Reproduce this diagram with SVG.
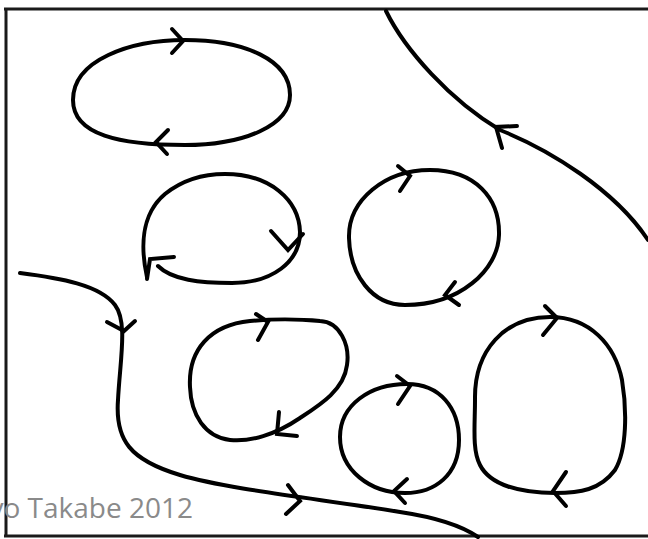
<svg xmlns="http://www.w3.org/2000/svg" width="648" height="539" viewBox="0 0 648 539">
<style>
.ln{fill:none;stroke:#000;stroke-width:4;stroke-linecap:round;stroke-linejoin:round}
.ah{fill:none;stroke:#000;stroke-width:4;stroke-linecap:round;stroke-linejoin:miter}
.fr{fill:none;stroke:#1a1a1a;stroke-width:3}
.cap{font-family:"Open Sans","Liberation Sans",sans-serif;font-size:28px;fill:#8a8a8a}
</style>
<rect width="648" height="539" fill="#fff"/>
<g id="frame">
<line class="fr" x1="4" y1="9" x2="648" y2="9"/>
<line class="fr" x1="6" y1="8" x2="6" y2="537"/>
<line class="fr" x1="4" y1="536" x2="648" y2="536"/>
</g>
<g id="loop1">
<path class="ln" d="M73,100 C73,60 130,40 185,40 C245,40 290,60 290,95 C290,125 245,145 185,145 C120,145 73,135 73,100 Z"/>
<polyline class="ah" points="172,29 183,41 172,53"/>
<polyline class="ah" points="168,130 156,142 167,154"/>
</g>
<g id="loop2">
<path class="ln" d="M147,277 C141,250 140,215 165,194 C185,178 205,174 225,174 C270,174 299,200 300,232 C300,262 272,283 232,283 C200,283 172,280 158,266"/>
<polyline class="ah" points="271,231 288,250 303,234"/>
<polyline class="ah" points="174,257 150,259 147,279"/>
</g>
<g id="loop3">
<path class="ln" d="M349,238 C348,200 385,170 430,170 C475,170 500,198 499,235 C498,270 460,305 405,305 C372,305 350,275 349,238 Z"/>
<polyline class="ah" points="398,166 410,176 400,191"/>
<polyline class="ah" points="455,282 445,295 459,305"/>
</g>
<g id="loop4">
<path class="ln" d="M190,387 C188,350 210,325 250,321 C270,319 300,319 320,321 C340,322 350,345 347,365 C344,390 320,405 300,418 C275,435 250,442 230,440 C205,437 191,415 190,387 Z"/>
<polyline class="ah" points="256,314 268,322 258,340"/>
<polyline class="ah" points="279,412 277,434 297,436"/>
</g>
<g id="loop5">
<path class="ln" d="M340,437 C340,405 370,384 407,384 C440,384 459,408 459,440 C459,475 435,493 405,493 C370,493 340,470 340,437 Z"/>
<polyline class="ah" points="397,376 410,386 398,404"/>
<polyline class="ah" points="407,479 394,491 405,503"/>
</g>
<g id="loop6">
<path class="ln" d="M475,400 C474,350 505,317 550,317 C590,317 615,345 622,380 C627,410 627,450 615,470 C600,490 580,493 555,493 C520,493 490,485 480,465 C472,450 475,425 475,400 Z"/>
<polyline class="ah" points="545,306 557,318 543,335"/>
<polyline class="ah" points="566,472 553,491 566,506"/>
</g>
<g id="streamlines">
<path class="ln" d="M386,11 C405,50 450,100 500,130 C550,150 615,190 648,240"/>
<polyline class="ah" points="517,126 496,127 502,148"/>
<path class="ln" d="M20,273 C60,278 100,285 115,305 C128,322 120,360 118,400 C115,440 130,460 180,475 C230,490 330,500 400,512 C440,518 465,528 478,537"/>
<polyline class="ah" points="107,322 124,331 135,321"/>
<polyline class="ah" points="288,485 300,501 286,514"/>
</g>
<text class="cap" x="193" y="518" text-anchor="end">yo Takabe 2012</text>
</svg>
